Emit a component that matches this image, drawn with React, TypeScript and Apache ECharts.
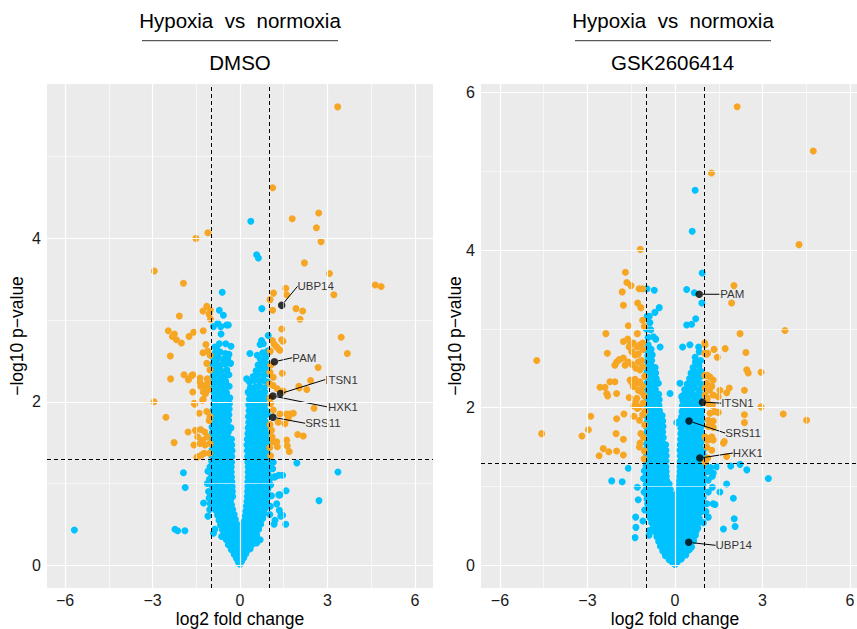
import React, { useEffect, useRef } from "react";
import * as echarts from "echarts";

// ---------- axis ticks / thresholds ----------
const xTicks = [-6, -3, 0, 3, 6];
const xMinor = [-4.5, -1.5, 1.5, 4.5];
const dmsoYTicks = [0, 2, 4];
const gskYTicks = [0, 2, 4, 6];
const yMinor = [1, 3, 5];
const fcCut = 1;
const pCut = 1.301;

const panelTitles = ["DMSO", "GSK2606414"];
const mainTitle = "Hypoxia  vs  normoxia";
const xTitle = "log2 fold change";
const yTitle = "\u2212log10 p\u2212value";

// ---------- DMSO panel: [log2FC, -log10 p] ----------
const dmsoCore = [
  [0,0.01],[-0.06,0.04],[0.06,0.05],[-0.12,0.08],[0.01,0.08],[0.13,0.09],
  [-0.2,0.13],[-0.07,0.12],[0.07,0.13],[0.2,0.14],
  [-0.3,0.19],[-0.16,0.18],[-0.03,0.2],[0.11,0.19],[0.24,0.18],[0.35,0.2],
  [-0.4,0.25],[-0.26,0.26],[-0.12,0.24],[0.02,0.26],[0.16,0.25],[0.3,0.24],[0.44,0.26],
  [-0.47,0.31],[-0.33,0.32],[-0.19,0.3],[-0.05,0.31],[0.09,0.32],[0.23,0.3],[0.37,0.31],[0.51,0.32],
  [-0.55,0.37],[-0.41,0.38],[-0.27,0.36],[-0.13,0.37],[0.01,0.38],[0.15,0.36],[0.29,0.37],[0.43,0.38],[0.57,0.37],
  [-0.6,0.43],[-0.46,0.44],[-0.32,0.42],[-0.18,0.43],[-0.04,0.44],[0.1,0.42],[0.24,0.43],[0.38,0.44],[0.52,0.42],[0.64,0.44],
  [-0.67,0.49],[-0.53,0.5],[-0.39,0.48],[-0.25,0.49],[-0.11,0.5],[0.03,0.49],[0.17,0.48],[0.31,0.5],[0.45,0.49],[0.59,0.48],[0.71,0.5],
  [-0.72,0.55],[-0.58,0.56],[-0.44,0.54],[-0.3,0.55],[-0.16,0.56],[0.15,0.54],[0.28,0.55],[0.42,0.56],[0.56,0.54],[0.7,0.55],[0.78,0.57],
  [-0.77,0.61],[-0.63,0.62],[-0.49,0.6],[-0.35,0.61],[-0.2,0.62],[0.18,0.6],[0.32,0.61],[0.46,0.62],[0.6,0.6],[0.73,0.61],[0.82,0.63],
  [-0.82,0.67],[-0.68,0.68],[-0.54,0.66],[-0.4,0.67],[-0.25,0.68],[0.2,0.66],[0.34,0.67],[0.48,0.68],[0.62,0.66],[0.76,0.67],[0.86,0.69],
  [-0.86,0.73],[-0.72,0.74],[-0.58,0.72],[-0.44,0.73],[-0.29,0.74],[0.22,0.72],[0.36,0.73],[0.5,0.74],[0.64,0.72],[0.78,0.73],[0.9,0.75],
  [-0.89,0.79],[-0.75,0.8],[-0.61,0.78],[-0.47,0.79],[-0.32,0.8],[0.24,0.78],[0.38,0.79],[0.52,0.8],[0.66,0.78],[0.8,0.79],[0.92,0.81],
  [-0.92,0.85],[-0.78,0.86],[-0.64,0.84],[-0.5,0.85],[-0.35,0.86],[-0.25,0.84],[0.25,0.84],[0.4,0.85],[0.54,0.86],[0.68,0.84],[0.82,0.85],[0.94,0.87],
  [-0.94,0.91],[-0.8,0.92],[-0.66,0.9],[-0.52,0.91],[-0.38,0.92],[-0.26,0.9],[0.26,0.9],[0.41,0.91],[0.56,0.92],[0.7,0.9],[0.84,0.91],[0.95,0.93],
  [-0.95,0.97],[-0.82,0.98],[-0.68,0.96],[-0.54,0.97],[-0.4,0.98],[-0.27,0.96],[0.27,0.96],[0.42,0.97],[0.57,0.98],[0.71,0.96],[0.85,0.97],[0.96,0.99],
  [-0.96,1.03],[-0.83,1.04],[-0.69,1.02],[-0.55,1.03],[-0.41,1.04],[-0.28,1.02],[0.27,1.02],[0.42,1.03],[0.57,1.04],[0.71,1.02],[0.85,1.03],[0.97,1.05],
  [-0.97,1.09],[-0.84,1.1],[-0.7,1.08],[-0.56,1.09],[-0.42,1.1],[-0.29,1.08],[0.28,1.08],[0.43,1.09],[0.58,1.1],[0.72,1.08],[0.86,1.09],[0.97,1.11],
  [-0.98,1.15],[-0.85,1.16],[-0.71,1.14],[-0.57,1.15],[-0.43,1.16],[-0.3,1.14],[0.28,1.14],[0.43,1.15],[0.58,1.16],[0.72,1.14],[0.86,1.15],[0.98,1.17],
  [-0.98,1.21],[-0.85,1.22],[-0.71,1.2],[-0.57,1.21],[-0.43,1.22],[-0.3,1.2],[0.28,1.2],[0.43,1.21],[0.58,1.22],[0.72,1.2],[0.86,1.21],[0.98,1.23],
  [-0.97,1.27],[-0.84,1.28],[-0.7,1.26],[-0.56,1.27],[-0.42,1.28],[-0.29,1.26],[0.27,1.26],[0.42,1.27],[0.57,1.28],[0.71,1.26],[0.85,1.27],[0.97,1.29],
  [-0.97,1.34],[-0.83,1.35],[-0.69,1.33],[-0.55,1.34],[-0.41,1.35],[-0.28,1.33],[0.26,1.33],[0.41,1.34],[0.56,1.35],[0.7,1.33],[0.84,1.34],[0.96,1.36],
  [-0.96,1.41],[-0.82,1.42],[-0.68,1.4],[-0.54,1.41],[-0.4,1.42],[-0.27,1.4],[0.25,1.4],[0.4,1.41],[0.55,1.42],[0.69,1.4],[0.83,1.41],[0.95,1.43],
  [-0.97,1.48],[-0.83,1.49],[-0.69,1.47],[-0.55,1.48],[-0.41,1.49],[-0.28,1.47],[0.24,1.47],[0.39,1.48],[0.54,1.49],[0.68,1.47],[0.82,1.48],[0.95,1.5],
  [-0.96,1.55],[-0.82,1.56],[-0.68,1.54],[-0.54,1.55],[-0.4,1.56],[-0.29,1.54],[0.25,1.54],[0.4,1.55],[0.55,1.56],[0.69,1.54],[0.83,1.55],[0.94,1.57],
  [-0.95,1.62],[-0.81,1.63],[-0.67,1.61],[-0.53,1.62],[-0.4,1.63],[0.27,1.61],[0.42,1.62],[0.56,1.63],[0.7,1.61],[0.84,1.62],[0.94,1.64],
  [-0.96,1.69],[-0.82,1.7],[-0.68,1.68],[-0.54,1.69],[-0.41,1.7],[-0.31,1.68],[0.28,1.68],[0.43,1.69],[0.57,1.7],[0.71,1.68],[0.84,1.69],[0.93,1.71],
  [-0.94,1.76],[-0.8,1.77],[-0.66,1.75],[-0.52,1.76],[-0.39,1.77],[0.3,1.75],[0.45,1.76],[0.59,1.77],[0.73,1.75],[0.86,1.76],
  [-0.93,1.83],[-0.79,1.84],[-0.65,1.82],[-0.51,1.83],[-0.38,1.84],[0.29,1.82],[0.44,1.83],[0.58,1.84],[0.72,1.82],[0.85,1.83],[0.94,1.85],
  [-0.92,1.9],[-0.78,1.91],[-0.64,1.89],[-0.5,1.9],[-0.37,1.91],[0.31,1.89],[0.46,1.9],[0.6,1.91],[0.74,1.89],[0.87,1.9],
  [-0.9,1.97],[-0.76,1.98],[-0.62,1.96],[-0.48,1.97],[-0.36,1.98],[0.3,1.96],[0.45,1.97],[0.6,1.98],[0.74,1.96],[0.86,1.97],
  [-0.89,2.04],[-0.75,2.05],[-0.61,2.03],[-0.47,2.04],[-0.35,2.05],[0.32,2.03],[0.47,2.04],[0.62,2.05],[0.76,2.03],[0.88,2.05],
  [-0.88,2.11],[-0.74,2.12],[-0.6,2.1],[-0.46,2.11],[0.31,2.1],[0.46,2.11],[0.61,2.12],[0.75,2.1],[0.85,2.12],
  [-0.9,2.18],[-0.76,2.19],[-0.62,2.17],[-0.48,2.18],[-0.37,2.19],[0.35,2.17],[0.52,2.18],[0.68,2.19],[0.83,2.17],
  [-0.91,2.25],[-0.77,2.26],[-0.63,2.24],[-0.49,2.25],[0.33,2.24],[0.5,2.26],[0.66,2.25],[0.82,2.26],[0.95,2.24],
  [-0.92,2.32],[-0.78,2.33],[-0.64,2.31],[-0.5,2.32],[-0.38,2.33],[0.45,2.31],[0.62,2.33],[0.78,2.32],[0.92,2.34],
  [-0.93,2.39],[-0.79,2.4],[-0.65,2.38],[-0.45,2.39],[0.55,2.38],[0.72,2.4],[0.88,2.39],
  [-0.94,2.46],[-0.8,2.47],[-0.66,2.45],[-0.5,2.46],[-0.32,2.47],[0.62,2.45],[0.8,2.47],[0.95,2.46],
  [-0.9,2.53],[-0.75,2.54],[-0.58,2.52],[-0.42,2.53],[0.7,2.52],[0.88,2.54],
  [-0.85,2.6],[-0.68,2.61],[-0.5,2.59],[0.78,2.6],[0.95,2.62],
];
const dmsoOuter = [
  [0.37,4.21],[0.57,3.8],[0.63,3.76],[-0.61,3.34],[0.75,3.14],[-0.71,3.12],[-0.57,3.06],[-0.91,2.92],[-0.76,2.96],
  [-0.66,2.92],[-0.46,2.94],[-0.4,2.94],[-0.65,2.83],[0.97,2.81],[0.74,2.75],[0.69,2.7],[0.8,2.71],[0.95,2.62],
  [-0.86,2.67],[-0.71,2.71],[-0.49,2.71],[-0.31,2.68],[-0.8,2.65],[0.34,2.59],[0.59,2.57],[-0.38,2.58],
  [-5.68,0.43],[-2.23,0.44],[-2.14,0.42],[-1.89,0.42],[-1.94,1.13],[-1.88,0.95],[-1.25,0.76],[1.95,1.25],[3.36,1.14],
  [2.71,0.79],[1.58,0.91],[1.33,0.86],[1.57,0.5],[1.4,0.6],[1.35,0.67],[1.2,0.55],[1.33,1.1],[1.2,1.08],[1.46,1.1],
  [1.14,1.26],[1.12,1.18],[-0.91,0.39],[-0.86,0.44],[-0.63,0.35],[0.57,0.27],[0.69,0.31],[0.23,2.28],[0.28,2.12],
  [0.46,2.08],[-0.5,2.22],[-0.59,2.18],[1.37,0.86],[1.46,0.61],[1.17,0.5],[1.26,0.75],[1.0,1.04],[1.17,1.08],
  [1.05,0.98],[1.08,0.85],[1.04,0.72],[1.02,0.62],[-1.05,1.05],[-1.08,0.9],[-1.03,1.2],[-1.1,0.6],[-1.02,0.75],
  [-1.1,1.15],[-1.12,1.0],[-1.06,0.82],[-1.04,0.68],
];
const dmsoSig = [
  [3.35,5.61],[1.12,4.62],[1.79,4.24],[2.7,4.31],[2.62,4.13],[2.78,3.96],[-1.51,4.0],[-1.1,4.07],[-2.94,3.6],
  [2.21,3.7],[3.07,3.57],[-1.94,3.45],[4.64,3.43],[4.84,3.41],[3.22,3.31],[1.57,3.39],[1.6,3.31],[1.15,3.33],
  [1.03,3.25],[1.12,3.12],[1.92,3.14],[2.15,3.11],[2.06,3.01],[1.43,2.89],[1.47,2.74],[3.47,2.79],[3.68,2.59],
  [1.11,2.75],[1.18,2.7],[1.34,2.64],[-2.08,3.05],[-1.14,3.17],[-1.27,3.11],[-1.02,3.12],[-1.06,3.07],[-1.01,3.01],
  [-2.46,2.87],[-2.25,2.83],[-2.32,2.8],[-2.18,2.76],[-2.01,2.72],[-1.75,2.8],[-1.59,2.85],[-1.26,2.87],[-1.17,2.7],
  [-1.27,2.6],[-1.11,2.62],[-1.03,2.57],[-2.39,2.56],[-1.14,2.47],[-1.03,2.39],[-2.38,2.28],[-1.92,2.33],[-1.76,2.28],
  [-1.62,2.33],[-1.37,2.29],[-1.12,2.28],[-1.37,2.24],[-1.14,2.19],[-1.35,2.19],[-1.26,2.12],[-1.07,2.15],[-1.62,2.12],
  [-1.26,2.03],[-2.95,2.0],[-1.55,1.97],[-2.54,1.81],[-1.4,1.86],[-1.14,1.88],[-1.03,1.82],[-1.78,1.63],[-1.53,1.65],
  [-1.35,1.66],[-1.21,1.63],[-1.45,1.57],[-1.28,1.53],[-1.12,1.57],[-1.03,1.49],[-2.26,1.5],[-1.58,1.47],[-1.37,1.49],
  [-1.23,1.37],[-1.43,1.33],[-1.05,1.37],[-1.66,2.32],[-1.77,2.27],[-1.28,2.02],[-1.57,1.98],[-1.48,1.32],[-1.2,1.47],
  [-1.31,1.35],[-1.23,2.2],[-1.09,2.24],[-1.18,2.1],[-1.06,1.77],
  [2.68,2.42],[2.42,2.26],[2.03,2.17],[1.14,2.2],[1.28,2.16],[1.48,2.13],[2.54,1.92],[1.14,1.9],[1.37,1.85],
  [1.71,1.85],[1.66,1.8],[1.31,1.75],[1.54,1.73],[1.98,1.6],[2.17,1.58],[1.6,1.53],[1.62,1.46],[1.69,1.39],[1.26,1.51],
  [1.28,1.45],[1.1,1.57],[1.14,1.51],[1.45,2.35],[1.14,2.3],[1.03,2.36],[2.02,2.19],[2.29,2.15],[1.83,1.86],[1.6,1.85],
  [1.43,2.76],[1.26,2.67],[1.37,2.63],[1.03,2.05],[1.04,2.62],[1.06,2.45],[1.02,2.22],[1.05,1.98],[1.03,1.72],
  [1.08,1.65],[1.02,1.44],[1.05,1.34],
];
const dmsoGenes = ["UBP14", "PAM", "ITSN1", "HXK1", "SRS11"];
const dmsoGeneVals = [[1.43,3.18],[1.18,2.49],[1.39,2.1],[1.13,2.07],[1.13,1.81]];

// ---------- GSK2606414 panel ----------
const gskCore = [
  [0,0.01],[-0.08,0.03],[0.08,0.04],
  [-0.2,0.07],[-0.06,0.06],[0.08,0.07],[0.22,0.08],
  [-0.33,0.12],[-0.19,0.11],[-0.05,0.13],[0.09,0.12],[0.23,0.11],[0.37,0.13],
  [-0.42,0.18],[-0.28,0.19],[-0.14,0.17],[0,0.18],[0.14,0.19],[0.28,0.17],[0.42,0.18],[0.5,0.2],
  [-0.5,0.24],[-0.36,0.25],[-0.22,0.23],[-0.08,0.24],[0.06,0.25],[0.2,0.23],[0.34,0.24],[0.48,0.25],[0.57,0.23],
  [-0.56,0.3],[-0.42,0.31],[-0.28,0.29],[-0.14,0.3],[0,0.31],[0.14,0.29],[0.28,0.3],[0.42,0.31],[0.56,0.29],[0.64,0.31],
  [-0.62,0.36],[-0.48,0.37],[-0.34,0.35],[-0.2,0.36],[-0.06,0.37],[0.08,0.35],[0.22,0.36],[0.36,0.37],[0.5,0.35],[0.64,0.36],[0.7,0.38],
  [-0.68,0.42],[-0.54,0.43],[-0.4,0.41],[-0.26,0.42],[-0.12,0.43],[0.02,0.41],[0.16,0.42],[0.3,0.43],[0.44,0.41],[0.58,0.42],[0.72,0.43],
  [-0.74,0.48],[-0.6,0.49],[-0.46,0.47],[-0.32,0.48],[-0.18,0.49],[-0.04,0.47],[0.1,0.48],[0.24,0.49],[0.38,0.47],[0.52,0.48],[0.66,0.49],[0.78,0.47],
  [-0.8,0.54],[-0.66,0.55],[-0.52,0.53],[-0.38,0.54],[-0.24,0.55],[-0.1,0.53],[0.04,0.54],[0.18,0.55],[0.32,0.53],[0.46,0.54],[0.6,0.55],[0.74,0.53],[0.84,0.55],
  [-0.85,0.6],[-0.71,0.61],[-0.57,0.59],[-0.43,0.6],[-0.29,0.61],[-0.15,0.59],[-0.01,0.6],[0.13,0.61],[0.27,0.59],[0.41,0.6],[0.55,0.61],[0.69,0.59],[0.83,0.6],
  [-0.88,0.66],[-0.74,0.67],[-0.6,0.65],[-0.46,0.66],[-0.32,0.67],[-0.18,0.65],[-0.04,0.66],[0.1,0.67],[0.24,0.65],[0.38,0.66],[0.52,0.67],[0.66,0.65],[0.8,0.66],[0.9,0.68],
  [-0.91,0.72],[-0.77,0.73],[-0.63,0.71],[-0.49,0.72],[-0.35,0.73],[-0.21,0.71],[-0.07,0.72],[0.07,0.73],[0.21,0.71],[0.35,0.72],[0.49,0.73],[0.63,0.71],[0.77,0.72],[0.91,0.73],
  [-0.94,0.78],[-0.8,0.79],[-0.66,0.77],[-0.52,0.78],[-0.38,0.79],[-0.24,0.77],[-0.1,0.78],[0.05,0.79],[0.19,0.77],[0.33,0.78],[0.47,0.79],[0.61,0.77],[0.75,0.78],[0.89,0.79],[0.96,0.77],
  [-0.96,0.84],[-0.82,0.85],[-0.68,0.83],[-0.54,0.84],[-0.4,0.85],[-0.26,0.83],[-0.12,0.84],[0.04,0.85],[0.18,0.83],[0.32,0.84],[0.46,0.85],[0.6,0.83],[0.74,0.84],[0.88,0.85],[0.97,0.86],
  [-0.98,0.9],[-0.84,0.91],[-0.7,0.89],[-0.56,0.9],[-0.42,0.91],[-0.28,0.89],[-0.14,0.9],[0.06,0.91],[0.2,0.89],[0.34,0.9],[0.48,0.91],[0.62,0.89],[0.76,0.9],[0.9,0.91],
  [-0.99,0.96],[-0.85,0.97],[-0.71,0.95],[-0.57,0.96],[-0.43,0.97],[-0.29,0.95],[-0.16,0.96],[0.12,0.95],[0.26,0.96],[0.4,0.97],[0.54,0.95],[0.68,0.96],[0.82,0.97],[0.95,0.96],
  [-0.99,1.02],[-0.85,1.03],[-0.71,1.01],[-0.57,1.02],[-0.43,1.03],[-0.3,1.01],[-0.2,1.03],[0.14,1.01],[0.28,1.02],[0.42,1.03],[0.56,1.01],[0.7,1.02],[0.84,1.03],[0.96,1.01],
  [-0.98,1.08],[-0.84,1.09],[-0.7,1.07],[-0.56,1.08],[-0.42,1.09],[-0.28,1.07],[0.15,1.07],[0.29,1.08],[0.43,1.09],[0.57,1.07],[0.71,1.08],[0.85,1.09],[0.97,1.07],
  [-0.99,1.14],[-0.85,1.15],[-0.71,1.13],[-0.57,1.14],[-0.43,1.15],[-0.3,1.13],[0.16,1.13],[0.3,1.14],[0.44,1.15],[0.58,1.13],[0.72,1.14],[0.86,1.15],[0.97,1.13],
  [-0.98,1.2],[-0.84,1.21],[-0.7,1.19],[-0.56,1.2],[-0.42,1.21],[-0.3,1.19],[0.17,1.19],[0.31,1.2],[0.45,1.21],[0.59,1.19],[0.73,1.2],[0.87,1.21],[0.97,1.19],
  [-0.99,1.26],[-0.85,1.27],[-0.71,1.25],[-0.57,1.26],[-0.43,1.27],[-0.31,1.25],[0.17,1.25],[0.31,1.26],[0.45,1.27],[0.59,1.25],[0.73,1.26],[0.87,1.27],[0.97,1.26],
  [-0.98,1.33],[-0.84,1.34],[-0.7,1.32],[-0.56,1.33],[-0.42,1.34],[-0.31,1.32],[0.18,1.32],[0.32,1.33],[0.46,1.34],[0.6,1.32],[0.74,1.33],[0.88,1.34],[0.97,1.33],
  [-0.97,1.4],[-0.83,1.41],[-0.69,1.39],[-0.55,1.4],[-0.41,1.41],[-0.3,1.39],[0.18,1.39],[0.32,1.4],[0.46,1.41],[0.6,1.39],[0.74,1.4],[0.88,1.41],[0.97,1.4],
  [-0.98,1.47],[-0.84,1.48],[-0.7,1.46],[-0.56,1.47],[-0.42,1.48],[-0.31,1.46],[0.17,1.46],[0.31,1.47],[0.45,1.48],[0.59,1.46],[0.73,1.47],[0.87,1.48],[0.97,1.46],
  [-0.97,1.54],[-0.83,1.55],[-0.69,1.53],[-0.55,1.54],[-0.42,1.55],[-0.32,1.53],[0.18,1.53],[0.32,1.54],[0.46,1.55],[0.6,1.53],[0.74,1.54],[0.88,1.55],
  [-0.96,1.61],[-0.82,1.62],[-0.68,1.6],[-0.54,1.61],[-0.4,1.62],[0.19,1.6],[0.33,1.61],[0.47,1.62],[0.61,1.6],[0.75,1.61],[0.89,1.62],[0.97,1.6],
  [-0.97,1.68],[-0.83,1.69],[-0.69,1.67],[-0.55,1.68],[-0.42,1.69],[0.2,1.67],[0.34,1.68],[0.48,1.69],[0.62,1.67],[0.76,1.68],[0.9,1.69],
  [-0.96,1.75],[-0.82,1.76],[-0.68,1.74],[-0.54,1.75],[-0.41,1.76],[0.2,1.74],[0.34,1.75],[0.48,1.76],[0.62,1.74],[0.76,1.75],[0.9,1.76],
  [-0.95,1.82],[-0.81,1.83],[-0.67,1.81],[-0.53,1.82],[-0.42,1.83],[0.22,1.81],[0.36,1.82],[0.5,1.83],[0.64,1.81],[0.78,1.82],[0.91,1.83],
  [-0.96,1.89],[-0.82,1.9],[-0.68,1.88],[-0.54,1.89],[-0.44,1.9],[0.22,1.88],[0.36,1.89],[0.5,1.9],[0.64,1.88],[0.78,1.89],[0.9,1.9],
  [-0.95,1.96],[-0.81,1.97],[-0.67,1.95],[-0.53,1.96],[0.24,1.95],[0.38,1.96],[0.52,1.97],[0.66,1.95],[0.8,1.96],[0.92,1.97],
  [-0.96,2.03],[-0.82,2.04],[-0.68,2.02],[-0.55,2.03],[0.25,2.02],[0.39,2.03],[0.53,2.04],[0.67,2.02],[0.81,2.03],
  [-0.95,2.1],[-0.81,2.11],[-0.67,2.09],[-0.54,2.1],[0.27,2.09],[0.41,2.1],[0.55,2.11],[0.69,2.09],[0.83,2.1],
  [-0.96,2.17],[-0.82,2.18],[-0.68,2.16],[-0.56,2.17],[0.3,2.16],[0.44,2.17],[0.58,2.18],[0.72,2.16],[0.86,2.17],
  [-0.95,2.24],[-0.81,2.25],[-0.67,2.23],[0.33,2.23],[0.5,2.24],[0.66,2.25],[0.82,2.23],[0.93,2.25],
  [-0.96,2.31],[-0.82,2.32],[-0.68,2.3],[-0.57,2.31],[0.42,2.3],[0.6,2.31],[0.76,2.32],[0.9,2.3],
  [-0.95,2.38],[-0.8,2.39],[-0.64,2.37],[0.5,2.37],[0.68,2.38],[0.86,2.39],
  [-0.96,2.45],[-0.82,2.46],[-0.66,2.44],[0.55,2.44],[0.74,2.45],[0.9,2.46],
  [-0.94,2.52],[-0.8,2.53],[-0.68,2.51],[0.62,2.51],[0.82,2.53],
  [-0.95,2.59],[-0.8,2.6],[0.7,2.58],[0.88,2.6],
  [-0.93,2.66],[-0.78,2.67],[-0.96,2.73],[-0.82,2.74],
];
const gskOuter = [
  [0.69,4.76],[0.59,4.24],[0.93,3.71],[0.4,3.5],[0.66,3.46],[0.92,3.33],[0.71,3.13],[0.4,3.05],[0.57,3.06],
  [0.26,2.77],[0.51,2.8],[0.81,2.77],[0.83,2.71],[0.69,2.64],[-0.96,3.51],[-0.71,3.49],[-0.54,3.27],[-0.69,3.21],
  [-0.95,3.16],[-0.86,3.08],[-0.98,3.0],[-0.92,2.89],[-0.74,2.9],[-0.66,2.87],[-0.51,2.77],[-0.92,2.8],[-0.86,2.73],
  [-2.17,1.07],[-1.81,1.06],[-1.6,1.23],[-1.35,0.61],[-1.34,0.48],[-1.1,0.56],[-0.89,0.38],[-0.88,0.44],[-1.37,0.35],
  [-1.29,0.99],[-1.26,0.83],[-1.06,0.93],[2.0,0.85],[2.03,0.59],[2.06,0.49],[1.66,0.46],[1.31,0.78],[1.37,0.77],
  [1.54,0.93],[1.77,1.03],[1.31,1.17],[2.46,1.21],[3.2,1.1],[2.23,1.28],[1.91,1.26],[1.28,0.99],[1.14,1.08],
  [1.28,1.13],[1.11,1.19],[1.22,1.24],[1.43,1.25],[1.14,0.61],[0.97,0.54],[1.09,0.78],[1.14,0.93],[0.06,1.81],
  [0.19,1.84],[0.17,2.31],[0.23,2.14],[-0.17,2.18],[-1.05,1.2],[-1.08,1.1],[-1.04,0.7],[1.05,1.28],[1.06,0.68],
  [-0.88,3.16],[-0.83,2.99],
];
const gskSig = [
  [2.13,5.82],[4.74,5.26],[1.25,4.98],[4.25,4.07],[-1.19,4.01],[-1.7,3.72],[-1.65,3.59],[-1.51,3.55],[-1.81,3.47],
  [-1.23,3.51],[-1.11,3.51],[2.02,3.55],[1.94,3.33],[-1.77,3.3],[-1.28,3.33],[-1.17,3.27],[-1.11,3.11],[-1.6,3.04],
  [-1.05,3.03],[3.77,2.98],[2.23,2.94],[-2.37,2.94],[-1.77,2.84],[-1.62,2.87],[-1.54,2.8],[-1.43,2.82],[-1.31,2.77],
  [-1.2,2.8],[-1.11,2.82],[-2.32,2.69],[1.02,2.82],[1.34,2.74],[1.72,2.75],[1.09,2.68],[1.45,2.64],[2.43,2.7],
  [-4.74,2.6],[-1.29,2.94],[-1.57,2.77],[-1.11,2.74],[-1.48,2.71],[-1.37,2.67],[-1.26,2.68],[-2.0,2.58],[-1.91,2.61],
  [-1.77,2.63],[-2.06,2.54],[-1.71,2.54],[-1.6,2.58],[-1.48,2.55],[-1.26,2.58],[-1.14,2.6],[-1.11,2.52],[-1.2,2.48],
  [-1.34,2.5],[-1.54,2.35],[-1.48,2.32],[-1.37,2.36],[-1.29,2.31],[-1.2,2.33],[-1.11,2.27],[-1.26,2.22],[-1.15,2.2],
  [-2.57,2.26],[-2.4,2.26],[-2.23,2.33],[-2.06,2.33],[-2.31,2.15],[-1.57,2.13],[-1.34,2.08],[-1.22,2.01],[-1.41,2.02],
  [-1.29,1.99],[-1.09,2.06],[-1.41,1.89],[-1.22,1.84],[-1.11,1.91],[-1.75,1.92],[-2.0,1.86],[-2.89,1.89],[-2.97,1.72],
  [-3.19,1.64],[-2.02,1.67],[-1.77,1.6],[-1.17,1.67],[-1.2,1.55],[-1.22,1.5],[-2.46,1.48],[-2.27,1.44],[-2.6,1.39],
  [-2.0,1.45],[-1.77,1.4],[-4.57,1.67],[-2.34,2.18],[-2.0,2.18],[-1.43,2.27],[-1.31,2.12],
  [-1.05,1.45],[-1.08,1.62],[-1.04,1.78],[-1.06,1.35],[-1.03,1.95],[-1.05,2.15],[-1.04,2.4],
  [1.03,2.8],[1.12,2.69],[2.46,2.48],[2.51,2.44],[2.95,2.45],[1.11,2.41],[1.31,2.35],[1.18,2.22],[1.54,2.22],
  [1.77,2.19],[1.86,2.25],[2.38,2.22],[1.48,2.14],[1.11,2.12],[1.14,2.05],[1.28,2.03],[1.36,1.95],[1.14,1.84],
  [1.31,1.83],[1.48,1.94],[1.31,1.75],[1.69,1.57],[1.77,1.38],[2.95,2.01],[3.71,1.92],[4.51,1.84],[2.38,1.81],
  [2.38,1.91],[1.03,1.63],[1.09,1.59],[1.2,1.61],[1.31,1.59],[1.09,1.5],[1.26,1.46],[1.12,1.36],[1.03,1.31],
  [1.2,2.39],[1.09,2.31],[1.03,2.25],[1.03,2.16],[1.26,2.27],[1.31,2.16],[1.2,1.93],[1.2,1.82],[1.14,1.76],
  [1.14,1.59],[1.26,1.63],[1.66,1.55],[1.02,2.41],[1.02,2.69],
];
const gskGenes = ["PAM", "ITSN1", "SRS11", "HXK1", "UBP14"];
const gskGeneVals = [[0.83,3.44],[0.94,2.07],[0.48,1.83],[0.85,1.36],[0.47,0.29]];

// ---------- layout (pixels) ----------
const labelOffsets = [
  [[34, -19], [30, -4], [61, -14], [70, 11], [50, 6]],
  [[33, 0], [35, 1], [54, 12], [48, -5], [45, 3]],
];
const FONT = '"Liberation Sans", Arial, sans-serif';
const ORANGE = "#F6A623";
const BLUE = "#00C2FF";

function isSig(p: number[]) {
  return Math.abs(p[0]) >= fcCut && p[1] >= pCut;
}

function buildPanel(idx: number, pts: number[][], genes: string[], geneVals: number[][]) {
  const ns = pts.filter((p) => !isSig(p));
  const sig = pts.filter((p) => isSig(p));
  const gridLines = [
    ...xTicks.map((v) => ({ xAxis: v, lineStyle: { color: "#fff", width: 1.2, type: "solid" } })),
    ...xMinor.map((v) => ({ xAxis: v, lineStyle: { color: "#fff", width: 0.6, type: "solid" } })),
    ...(idx === 0 ? dmsoYTicks : gskYTicks).map((v) => ({ yAxis: v, lineStyle: { color: "#fff", width: 1.2, type: "solid" } })),
    ...yMinor.map((v) => ({ yAxis: v, lineStyle: { color: "#fff", width: 0.6, type: "solid" } })),
  ];
  const common = { xAxisIndex: idx, yAxisIndex: idx, animation: false };
  return [
    {
      ...common,
      type: "scatter",
      data: [],
      z: 1,
      silent: true,
      markLine: { silent: true, symbol: ["none", "none"], label: { show: false }, animation: false, data: gridLines },
    },
    {
      ...common,
      type: "scatter",
      data: ns,
      z: 2,
      symbolSize: 7,
      itemStyle: { color: BLUE, opacity: 1 },
    },
    {
      ...common,
      type: "scatter",
      data: sig,
      z: 3,
      symbolSize: 7,
      itemStyle: { color: ORANGE, opacity: 1 },
    },
    {
      ...common,
      type: "scatter",
      z: 4,
      symbolSize: 7.5,
      itemStyle: { color: "#000" },
      data: geneVals.map((v, i) => ({ value: v, name: genes[i] })),
      label: {
        show: true,
        position: "inside",
        formatter: "{b}",
        color: "#000",
        fontSize: 11.5,
        fontFamily: FONT,
      },
      labelLine: { show: true, lineStyle: { color: "#000", width: 1 } },
      labelLayout: (params: any) => {
        const o = labelOffsets[idx][params.dataIndex];
        return { dx: o[0], dy: o[1] };
      },
    },
    {
      ...common,
      type: "scatter",
      data: [],
      z: 5,
      silent: true,
      markLine: {
        silent: true,
        symbol: ["none", "none"],
        label: { show: false },
        animation: false,
        lineStyle: { color: "#000", width: 1, type: [4, 3] },
        data: [{ xAxis: -fcCut }, { xAxis: fcCut }, { yAxis: pCut }],
      },
    },
  ];
}

export default function App() {
  const ref = useRef<HTMLDivElement>(null);
  useEffect(() => {
    document.body.style.margin = "0";
    const chart = echarts.init(ref.current!, undefined, { renderer: "svg" });
    const axisCommon = {
      axisLine: { show: false },
      axisTick: { show: true, length: 4, lineStyle: { color: "#333", width: 1 } },
      splitLine: { show: false },
      axisLabel: { color: "#1a1a1a", fontSize: 16, lineHeight: 14, fontFamily: FONT, margin: 5 },
      nameTextStyle: { color: "#000", fontSize: 17.5, lineHeight: 17, fontFamily: FONT },
      nameLocation: "middle",
      nameMoveOverlap: false,
    };
    const fmt = (v: number) => (v < 0 ? "\u2212" + Math.abs(v) : String(v));
    const gridCommon = {
      show: true,
      backgroundColor: "#EBEBEB",
      borderWidth: 0,
      containLabel: false,
      outerBoundsMode: "none",
    };
    const option: any = {
      animation: false,
      backgroundColor: "#fff",
      textStyle: { fontFamily: FONT },
      grid: [
        { ...gridCommon, left: 47, top: 84, width: 386, height: 504 },
        { ...gridCommon, left: 481, top: 84, width: 388, height: 504 },
      ],
      xAxis: [0, 1].map((i) => ({
        ...axisCommon,
        type: "value",
        gridIndex: i,
        min: i === 0 ? -6.62 : -6.65,
        max: i === 0 ? 6.62 : 6.65,
        name: xTitle,
        nameGap: 22.4,
        axisTick: { ...axisCommon.axisTick, customValues: xTicks },
        axisLabel: { ...axisCommon.axisLabel, customValues: xTicks, formatter: fmt },
      })),
      yAxis: [0, 1].map((i) => ({
        ...axisCommon,
        type: "value",
        gridIndex: i,
        min: i === 0 ? -0.28 : -0.29,
        max: i === 0 ? 5.89 : 6.11,
        name: yTitle,
        nameGap: i === 0 ? 21.5 : 17.5,
        axisTick: { ...axisCommon.axisTick, customValues: i === 0 ? dmsoYTicks : gskYTicks },
        axisLabel: { ...axisCommon.axisLabel, margin: 6, customValues: i === 0 ? dmsoYTicks : gskYTicks, formatter: fmt },
      })),
      graphic: [
        { type: "text", x: 240, y: 20, style: { text: mainTitle, fill: "#000", fontSize: 20.5, fontFamily: FONT, align: "center", verticalAlign: "middle" } },
        { type: "line", shape: { x1: 142, y1: 40.7, x2: 338, y2: 40.7 }, style: { stroke: "#333", lineWidth: 1 } },
        { type: "text", x: 240, y: 62, style: { text: panelTitles[0], fill: "#000", fontSize: 20.5, fontFamily: FONT, align: "center", verticalAlign: "middle" } },
        { type: "text", x: 673, y: 20, style: { text: mainTitle, fill: "#000", fontSize: 20.5, fontFamily: FONT, align: "center", verticalAlign: "middle" } },
        { type: "line", shape: { x1: 575, y1: 40.7, x2: 771, y2: 40.7 }, style: { stroke: "#333", lineWidth: 1 } },
        { type: "text", x: 672.5, y: 62, style: { text: panelTitles[1], fill: "#000", fontSize: 20.5, fontFamily: FONT, align: "center", verticalAlign: "middle" } },
      ],
      series: [
        ...buildPanel(0, [...dmsoCore, ...dmsoOuter, ...dmsoSig], dmsoGenes, dmsoGeneVals),
        ...buildPanel(1, [...gskCore, ...gskOuter, ...gskSig], gskGenes, gskGeneVals),
      ],
    };
    chart.setOption(option);
    return () => chart.dispose();
  }, []);
  return <div ref={ref} style={{ width: 857, height: 629, overflow: "hidden" }} />;
}
